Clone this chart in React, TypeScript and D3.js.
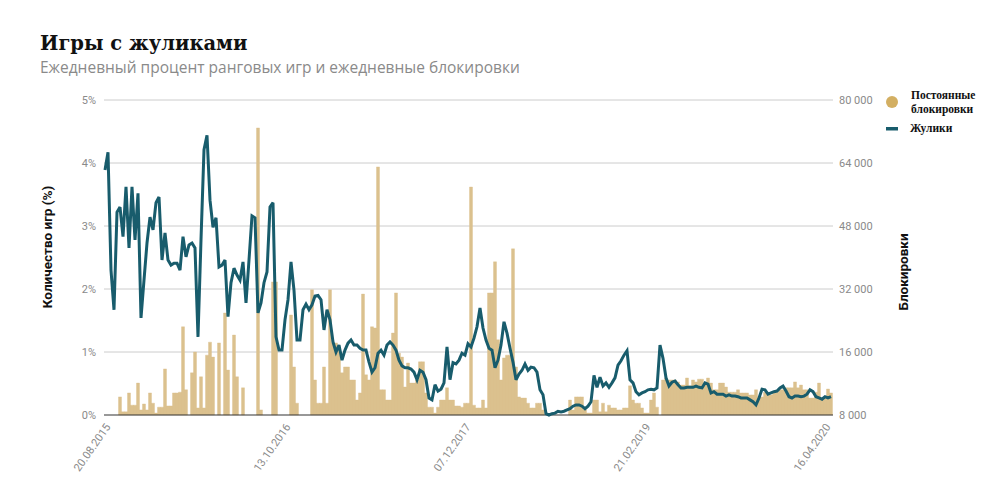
import React from "react";
import * as d3 from "d3";

const title = "Игры с жуликами";
const subtitle = "Ежедневный процент ранговых игр и ежедневные блокировки";
const leftAxisTitle = "Количество игр (%)";
const rightAxisTitle = "Блокировки";
const legendBlocks = ["Постоянные", "блокировки"];
const legendCheaters = "Жулики";

const xTickIndices = [0, 60, 120, 180, 240];
const xTickLabels = ["20.08.2015", "13.10.2016", "07.12.2017", "21.02.2019", "16.04.2020"];
const leftTickValues = [0, 1, 2, 3, 4, 5];
const leftTickLabels = ["0%", "1%", "2%", "3%", "4%", "5%"];
const rightTickValues = [0, 16000, 32000, 48000, 64000, 80000];
const rightTickLabels = ["8 000", "16 000", "32 000", "48 000", "64 000", "80 000"];

// Percentage of ranked games with cheaters
const cheaters = [
  3.89, 4.17, 2.30, 1.67, 3.22, 3.30, 2.83, 3.62, 2.65, 3.62,
  2.78, 3.52, 1.54, 2.14, 2.73, 3.14, 2.94, 3.37, 3.46, 2.46,
  2.89, 2.46, 2.38, 2.41, 2.41, 2.30, 2.83, 2.51, 2.70, 2.73,
  2.65, 1.24, 2.78, 4.21, 4.44, 3.41, 2.98, 3.13, 2.35, 2.38,
  2.46, 1.56, 2.10, 2.33, 2.22, 2.14, 2.43, 1.78, 2.46, 3.16,
  3.13, 1.62, 1.78, 2.10, 2.27, 3.30, 3.37, 1.24,
  1.03, 1.03, 1.51, 1.83, 2.43, 1.98, 1.19, 1.19, 1.67, 1.76,
  1.67, 1.75, 1.89, 1.90, 1.83, 1.35, 1.67, 1.51, 1.16, 1.00,
  1.11, 0.87, 1.03, 1.14, 1.19, 1.11, 1.11, 1.06, 1.03, 1.03,
  0.84, 0.68, 0.75, 0.98, 1.03, 0.95, 1.11, 1.16, 1.11, 1.03,
  0.87, 0.78, 0.75, 0.75, 0.73, 0.68, 0.56, 0.71, 0.68, 0.56,
  0.27, 0.24, 0.48, 0.38, 0.41, 0.51, 1.08, 0.56,
  0.83, 0.81, 0.87, 0.98, 0.95, 1.13, 1.08, 1.22, 1.40, 1.70,
  1.38, 1.19, 1.06, 1.03, 0.75, 0.87, 1.11, 1.48, 1.30, 1.06,
  0.84, 0.56, 0.65, 0.71, 0.81, 0.71, 0.76, 0.75, 0.68, 0.40,
  0.32, 0.02, 0.00, 0.02, 0.03, 0.06, 0.05, 0.06, 0.08, 0.10,
  0.14, 0.16, 0.16, 0.14, 0.10, 0.14, 0.21, 0.63, 0.44, 0.60,
  0.46, 0.51, 0.44, 0.51, 0.59, 0.79,
  0.86, 0.95, 1.02, 0.56, 0.51, 0.37, 0.32, 0.35, 0.37, 0.40,
  0.41, 0.40, 0.43, 1.11, 0.90, 0.59, 0.46, 0.52, 0.54, 0.48,
  0.43, 0.43, 0.44, 0.44, 0.44, 0.46, 0.44, 0.43, 0.51, 0.49,
  0.35, 0.37, 0.33, 0.33, 0.33, 0.30, 0.32, 0.30, 0.30, 0.29,
  0.27, 0.27, 0.27, 0.24, 0.21, 0.16, 0.27, 0.41, 0.40, 0.33,
  0.35, 0.37, 0.38, 0.43, 0.46, 0.38, 0.29, 0.27, 0.30, 0.30,
  0.29, 0.30, 0.33, 0.40, 0.37, 0.29, 0.27, 0.25, 0.29, 0.27,
  0.29,
];

// Daily permanent bans
const bans = [
  0, 0, 0, 0, 0, 4600, 800, 800, 5600, 2500,
  2500, 8100, 1300, 2800, 1300, 5600, 3000, 500, 2000, 2000,
  11700, 2300, 2300, 5600, 5600, 5800, 22400, 6400, 0, 10700,
  16000, 1800, 9700, 1800, 15200, 18500, 14700, 0, 18300, 0,
  25900, 11400, 0, 20300, 9700, 0, 6900, 0, 0, 0,
  0, 72900, 1300, 0, 0, 0, 33800, 33800, 0, 0,
  0, 0, 25400, 12200, 3000, 0, 0, 0, 0, 31800,
  8900, 3000, 3000, 12200, 3000, 31800, 18300, 18300, 17300, 10700,
  12200, 12200, 8900, 8900, 3800, 5600, 30700, 10200, 8900, 22400,
  22100, 63000, 6400, 6400, 3800, 3800, 20800, 31000, 15700, 14700,
  7100, 13200, 8100, 8100, 8900, 13500, 13500, 5600, 2000, 2000,
  500, 2000, 3800, 3800, 6900, 3800, 3800, 2300, 2300, 2000,
  3000, 3000, 57900, 2500, 1800, 1800, 3800, 1800, 31000, 31000,
  38900, 19100, 8900, 14500, 15200, 15200, 42200, 12200, 4600, 4300,
  4300, 3000, 1800, 1800, 3000, 3000, 1300, 0, 0, 0,
  0, 0, 0, 0, 0, 3800, 1300, 4600, 4600, 4600,
  1300, 500, 500, 3800, 3800, 800, 3000, 800, 2500, 1800,
  1800, 1300, 1300, 1800, 1800, 7400, 3800, 3000, 3000, 1800,
  500, 500, 3800, 5600, 2000, 0, 8900, 9400, 8900, 8900,
  8900, 8400, 7600, 7600, 9400, 7400, 8900, 8400, 9100, 9100,
  7600, 9400, 8100, 6400, 6400, 8100, 8100, 7100, 5800, 5800,
  5800, 6400, 5600, 5600, 5600, 5100, 5100, 6400, 4600, 4600,
  5800, 5100, 5100, 5800, 5800, 6400, 6400, 6900, 6900, 6900,
  8400, 6900, 7600, 6400, 6400, 4300, 4300, 5800, 8100, 4300,
  4300, 6600, 5600,
];

const LINE_COLOR = "#185c6c";
const BAR_FILL = "#dbc18e";

export default function App() {
  const left = 104;
  const right = 833;
  const top = 100;
  const bottom = 415;
  const n = cheaters.length;

  const x = d3.scaleLinear().domain([0, n - 1]).range([105, 831]);
  const yL = d3.scaleLinear().domain([0, 5]).range([bottom, top]);
  const yR = d3.scaleLinear().domain([0, 80000]).range([bottom, top]);
  const step = x(1) - x(0);

  const linePath = d3
    .line<number>()
    .x((_, i) => x(i))
    .y((d) => yL(d))(cheaters) as string;

  // One path for all columns (avoids seams between adjacent bars)
  const barPath = bans
    .map((v, i) => {
      if (v <= 0) return "";
      const x0 = x(i) - step / 2;
      const x1 = x(i) + step / 2;
      const y0 = yR(v);
      return `M${x0},${bottom}V${y0}H${x1}V${bottom}Z`;
    })
    .join("");

  const labelFont = "Roboto, 'Noto Sans', sans-serif";

  return (
    <svg
      width={1000}
      height={500}
      style={{ position: "absolute", left: 0, top: 0, background: "#fff" }}
    >
      <text x={40} y={50} fontFamily="'DejaVu Serif', serif" fontWeight="bold" fontSize={19.5} fill="#111">
        {title}
      </text>
      <text x={40} y={73} fontFamily="'Open Sans', sans-serif" fontSize={15.5} fill="#8a8a8a">
        {subtitle}
      </text>

      {leftTickValues.map((v, i) =>
        i === 0 ? null : (
          <line key={"g" + i} x1={left} x2={right} y1={yL(v)} y2={yL(v)} stroke="#cccccc" strokeWidth={1} />
        )
      )}

      <path d={barPath} fill={BAR_FILL} stroke={BAR_FILL} strokeWidth={0.4} />

      <line x1={left} x2={right} y1={bottom} y2={bottom} stroke="#333" strokeWidth={1.2} />

      <path d={linePath} fill="none" stroke={LINE_COLOR} strokeWidth={3} strokeLinejoin="miter" strokeMiterlimit={3} />

      {leftTickValues.map((v, i) => (
        <text
          key={"lt" + i}
          x={96}
          y={yL(v)}
          dy="0.35em"
          textAnchor="end"
          fontFamily={labelFont}
          fontSize={11}
          fill="#8a8a8a"
        >
          {leftTickLabels[i]}
        </text>
      ))}

      {rightTickValues.map((v, i) => (
        <text
          key={"rt" + i}
          x={839}
          y={yR(v)}
          dy="0.35em"
          textAnchor="start"
          fontFamily={labelFont}
          fontSize={11}
          fill="#8a8a8a"
        >
          {rightTickLabels[i]}
        </text>
      ))}

      {xTickIndices.map((idx, i) => (
        <text
          key={"xt" + i}
          transform={`translate(${x(idx) + 6},${bottom + 12}) rotate(-55)`}
          textAnchor="end"
          fontFamily={labelFont}
          fontSize={11}
          fill="#8a8a8a"
        >
          {xTickLabels[i]}
        </text>
      ))}

      <text
        transform={`translate(52,247) rotate(-90)`}
        textAnchor="middle"
        fontFamily={labelFont}
        fontWeight="bold"
        fontSize={13.5}
        fill="#111"
      >
        {leftAxisTitle}
      </text>
      <text
        transform={`translate(908,272) rotate(-90)`}
        textAnchor="middle"
        fontFamily={labelFont}
        fontWeight="bold"
        fontSize={13.5}
        fill="#111"
      >
        {rightAxisTitle}
      </text>

      <circle cx={892} cy={102} r={6} fill="#d3af62" />
      <text x={911} y={99} fontFamily="'Liberation Serif', serif" fontWeight="bold" fontSize={11.5} fill="#111">
        {legendBlocks[0]}
      </text>
      <text x={911} y={113} fontFamily="'Liberation Serif', serif" fontWeight="bold" fontSize={11.5} fill="#111">
        {legendBlocks[1]}
      </text>
      <rect x={886} y={127} width={12} height={3.5} fill={LINE_COLOR} />
      <text x={910} y={132} fontFamily="'Liberation Serif', serif" fontWeight="bold" fontSize={11.5} fill="#111">
        {legendCheaters}
      </text>
    </svg>
  );
}
